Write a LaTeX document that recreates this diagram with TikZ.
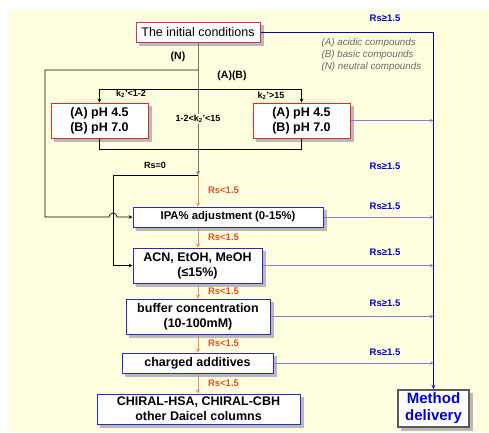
\documentclass[tikz,border=0pt]{standalone}
\usepackage{fontspec}
\setmainfont{Liberation Sans}
\usepackage{tikz}
\usetikzlibrary{arrows,backgrounds}
\definecolor{pale-yellow}{RGB}{255,255,224}
\definecolor{init-pink}{RGB}{204,51,110}
\definecolor{ph-red}{RGB}{236,36,36}
\definecolor{step-blue}{RGB}{40,40,205}
\definecolor{rail-blue}{RGB}{0,0,204}
\definecolor{out-blue}{RGB}{128,128,220}
\definecolor{rs-orange}{RGB}{225,80,35}
\definecolor{flow-orange}{RGB}{236,140,100}

\tikzset{
  box/.style={draw, fill=white, line width=1pt, inner sep=0pt, align=center,
    font=\bfseries\fontsize{12.5}{15}\selectfont},
  phbox/.style={box, draw=ph-red, minimum width=97pt, minimum height=35pt},
  stepbox/.style={box, draw=step-blue, minimum height=#1},
  stepbox/.default=20pt,
  rsok/.style={text=rail-blue, font=\bfseries\fontsize{9.5}{11}\selectfont},
  rsno/.style={text=rs-orange, font=\bfseries\fontsize{9.5}{11}\selectfont},
  tag/.style={font=\bfseries\fontsize{9}{11}\selectfont},
  legend/.style={text=black!60, anchor=west, font=\itshape\fontsize{9.8}{11}\selectfont},
  flow/.style={->, >=stealth, flow-orange, line width=0.9pt},
  outline/.style={->, >=stealth, out-blue, line width=0.6pt},
  boxshade/.style={fill=gray!55}
}

\begin{document}
\begin{tikzpicture}[x=1pt, y=-1pt]
\useasboundingbox (0,0) rectangle (489,432);

% boxes
\node[box, draw=init-pink, minimum width=124pt, minimum height=20pt,
  font=\fontsize{12.5}{15}\selectfont] (init) at (198,32) {The initial conditions};
\node[phbox] (phA) at (99.5,120.5) {(A) pH 4.5\\(B) pH 7.0};
\node[phbox] (phB) at (301.5,120.5) {(A) pH 4.5\\(B) pH 7.0};
\node[stepbox, minimum width=190pt, font=\bfseries\fontsize{11.3}{13}\selectfont]
  (ipa) at (228,217) {IPA\% adjustment (0-15\%)};
\node[stepbox=35pt, minimum width=129pt] (acn) at (197.5,265.5) {ACN, EtOH, MeOH\\(≤15\%)};
\node[stepbox=35pt, minimum width=144pt] (buf) at (198,316.5) {buffer concentration\\(10-100mM)};
\node[stepbox, minimum width=151pt] (chg) at (197.5,363) {charged additives};
\node[stepbox=30pt, minimum width=203pt] (col) at (198.5,409) {CHIRAL-HSA, CHIRAL-CBH\\other Daicel columns};
\node[box, draw=black!65, line width=1.6pt, minimum width=71pt, minimum height=37pt,
  text=rail-blue, font=\bfseries\fontsize{15}{17}\selectfont] (meth) at (433.5,408.5) {Method\\delivery};

% page colour and box shadows
\begin{scope}[on background layer]
  \fill[pale-yellow] (9,10) rectangle (489,432);
  \foreach \n in {init,phA,phB,ipa,acn,buf,chg,col,meth}
    \fill[boxshade] ([xshift=3.5pt,yshift=-3.5pt]\n.south west) rectangle ([xshift=3.5pt,yshift=-3.5pt]\n.north east);
\end{scope}

% legend
\node[legend] (legA) at (318,43) {(A) acidic compounds};
\node[legend] (legB) at (318,55) {(B) basic compounds};
\node[legend] (legN) at (318,67) {(N) neutral compounds};

% junctions
\coordinate (nsplit) at (198,70);
\coordinate (absplit) at (198,89);
\coordinate (jn) at (198,175);
\coordinate (rail) at (433.5,32);
\coordinate (nleft) at (45,70);
\coordinate (rsleft) at (113,175);

% main trunk
\draw[->, >=stealth, black!55, line width=0.8pt] (init.south -| jn) -- (jn);
\node[tag, fill=pale-yellow, inner sep=1pt] (mid) at (198,119) {1-2<k$_\mathbf{2}$'<15};

% (N) branch, with a hop over the Rs=0 line
\draw[->, >=stealth, line width=0.7pt] (nsplit) -- (nleft) -- (nleft |- ipa.west)
  -- ([xshift=-4pt]rsleft |- ipa.west) arc[start angle=180, end angle=0, radius=4pt]
  -- (ipa.west);
\node[font=\bfseries\fontsize{10.5}{12}\selectfont] (nlab) at (178,57) {(N)};

% (A)(B) branch
\draw[line width=0.7pt] (phA.north |- absplit) -- (phB.north |- absplit);
\draw[->, >=stealth, line width=0.7pt] (phA.north |- absplit) -- (phA.north);
\draw[->, >=stealth, line width=0.7pt] (phB.north |- absplit) -- (phB.north);
\draw[line width=0.7pt] (phA.south) -- ++(0,11) -| (phB.south);
\node[font=\bfseries\fontsize{10.5}{12}\selectfont] (ablab) at (232,76) {(A)(B)};
\node[tag] (klow) at (131,94) {k$_\mathbf{2}$'<1-2};
\node[tag] (khigh) at (271,96) {k$_\mathbf{2}$'>15};

% Rs=0 branch
\draw[->, >=stealth, line width=0.7pt] (jn) -- (rsleft) -- (rsleft |- acn.west) -- (acn.west);
\node[tag] (rs0) at (155,165) {Rs=0};

% Rs<1.5 steps
\draw[flow] (jn) -- (jn |- ipa.north);
\draw[flow] (jn |- ipa.south) -- (jn |- acn.north);
\draw[flow] (jn |- acn.south) -- (jn |- buf.north);
\draw[flow] (jn |- buf.south) -- (jn |- chg.north);
\draw[flow] (jn |- chg.south) -- (jn |- col.north);
\foreach \y in {190,237,291,343,383}
  \node[rsno] at (223.5,\y) {Rs<1.5};

% Rs>=1.5 to method delivery
\draw[->, >=stealth, rail-blue, line width=0.9pt] (init.east) -- (rail) -- (meth.north);
\foreach \n in {phB,ipa,acn,buf,chg}
  \draw[outline] (\n.east) -- (\n.east -| rail);
\foreach \y in {18,166,206,252,303,352}
  \node[rsok] at (385,\y) {Rs≥1.5};
\end{tikzpicture}
\end{document}
